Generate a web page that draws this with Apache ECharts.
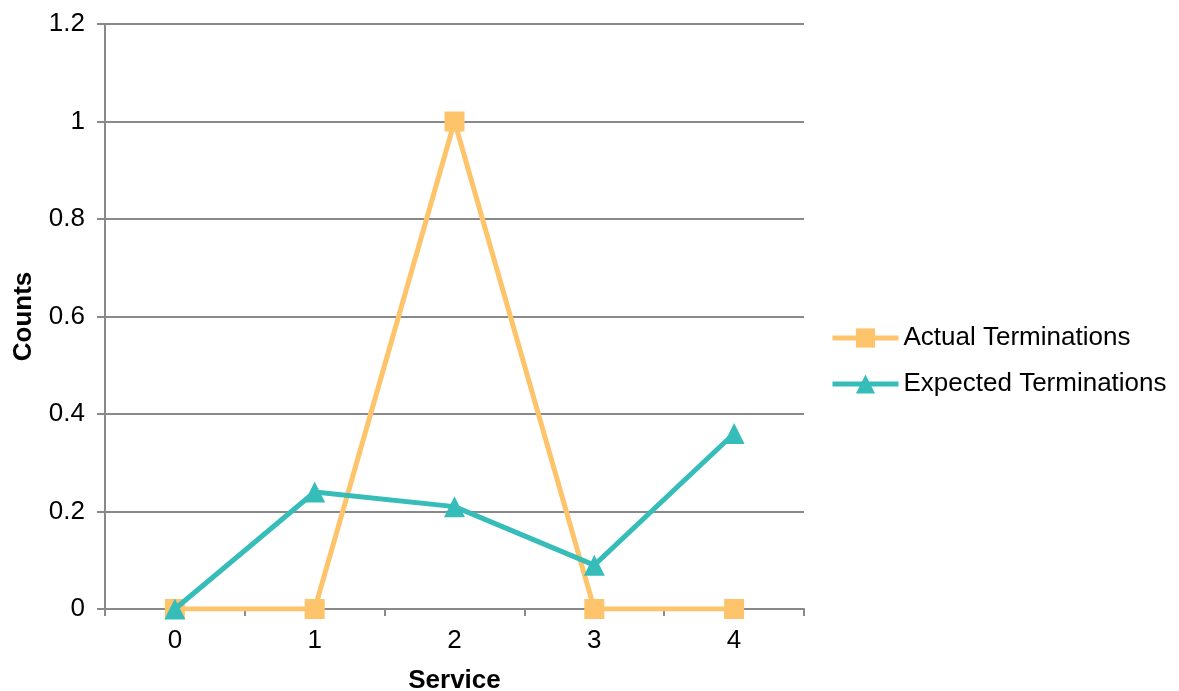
<!DOCTYPE html>
<html>
<head>
<meta charset="utf-8">
<script src="https://cdn.jsdelivr.net/npm/echarts@6/dist/echarts.min.js"></script>
<style>
  html, body { margin: 0; padding: 0; background: #fff; }
  #chart { width: 1179px; height: 691px; }
</style>
</head>
<body>
<div id="chart"></div>
<script>
// Service years on the x axis, termination counts on the y axis
const categories = ['0', '1', '2', '3', '4'];
const actualTerminations = [0, 0, 1, 0, 0];
const expectedTerminations = [0, 0.24, 0.21, 0.09, 0.36];
const yTicks = { min: 0, max: 1.2, interval: 0.2 };

const FONT = '"Liberation Sans", Arial, sans-serif';
const FONT_SIZE = 26;
const ORANGE = '#FEC46C';
const TEAL = '#36BDB9';
const AXIS_GREY = '#898989';

const chart = echarts.init(document.getElementById('chart'), null, { renderer: 'canvas' });

chart.setOption({
  animation: false,
  backgroundColor: '#ffffff',
  textStyle: { fontFamily: FONT },
  grid: { left: 105, right: 375, top: 24, bottom: 82, containLabel: false, outerBoundsMode: 'none' },
  legend: {
    orient: 'vertical',
    left: 825,
    top: 320,
    itemWidth: 66,
    itemHeight: 24,
    itemGap: 20,
    lineStyle: { width: 5 },
    textStyle: { fontFamily: FONT, fontSize: FONT_SIZE, lineHeight: 26, color: '#000' },
    data: ['Actual Terminations', 'Expected Terminations']
  },
  xAxis: {
    type: 'category',
    data: categories,
    boundaryGap: true,
    name: 'Service',
    nameLocation: 'middle',
    nameGap: 59,
    nameTextStyle: { fontFamily: FONT, fontSize: FONT_SIZE, fontWeight: 'bold', color: '#000' },
    axisLine: { lineStyle: { color: AXIS_GREY, width: 2 } },
    axisTick: { show: true, alignWithLabel: false, length: 7, lineStyle: { color: AXIS_GREY, width: 2 } },
    axisLabel: { fontFamily: FONT, fontSize: FONT_SIZE, color: '#000', margin: 19 }
  },
  yAxis: {
    type: 'value',
    min: yTicks.min,
    max: yTicks.max,
    interval: yTicks.interval,
    name: 'Counts',
    nameLocation: 'middle',
    nameGap: 68,
    nameRotate: 90,
    nameTextStyle: { fontFamily: FONT, fontSize: FONT_SIZE, fontWeight: 'bold', color: '#000' },
    axisLine: { show: true, lineStyle: { color: AXIS_GREY, width: 2 } },
    axisTick: { show: true, length: 8, lineStyle: { color: AXIS_GREY, width: 2 } },
    axisLabel: {
      fontFamily: FONT, fontSize: FONT_SIZE, color: '#000', margin: 20,
      formatter: v => String(parseFloat(v.toFixed(1)))
    },
    splitLine: { show: true, lineStyle: { color: AXIS_GREY, width: 2 } }
  },
  series: [
    {
      name: 'Actual Terminations',
      type: 'line',
      data: actualTerminations,
      symbol: 'rect',
      symbolSize: 20,
      color: ORANGE,
      lineStyle: { color: ORANGE, width: 5 },
      itemStyle: { color: ORANGE },
      z: 2
    },
    {
      name: 'Expected Terminations',
      type: 'line',
      data: expectedTerminations,
      symbol: 'triangle',
      symbolSize: 21,
      color: TEAL,
      lineStyle: { color: TEAL, width: 5 },
      itemStyle: { color: TEAL },
      z: 3
    }
  ]
});
</script>
</body>
</html>
